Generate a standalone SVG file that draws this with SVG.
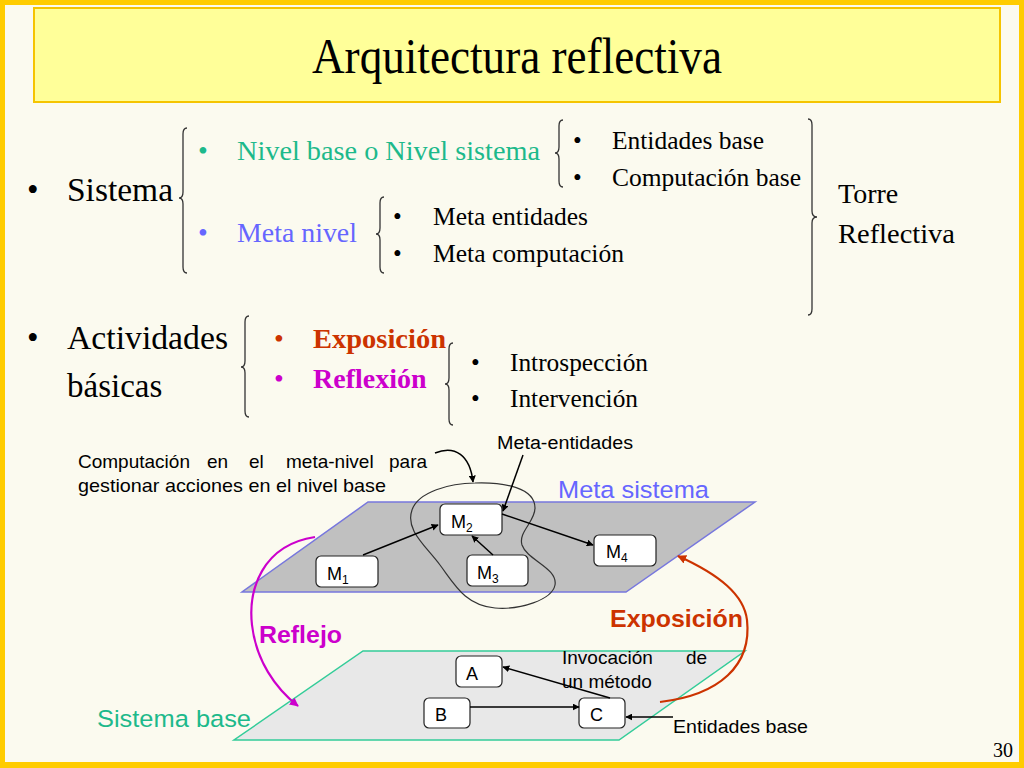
<svg xmlns="http://www.w3.org/2000/svg" width="1024" height="768" viewBox="0 0 1024 768">
<style>
.ser{font-family:"Liberation Serif","Times New Roman",serif;fill:#000}
.san{font-family:"Liberation Sans",Arial,sans-serif;fill:#000}
.brace{fill:none;stroke:#333;stroke-width:1.3}
.box{fill:#fff;stroke:#222;stroke-width:1.2}
.lbl{font-family:"Liberation Sans",Arial,sans-serif;font-size:18px;fill:#000}
.sub{font-size:12px}
.conn{fill:none;stroke:#000;stroke-width:1.5}
</style>
<defs>
<marker id="ah" viewBox="0 0 10 10" refX="9" refY="5" markerWidth="7" markerHeight="7" markerUnits="userSpaceOnUse" orient="auto">
<path d="M0,0 L10,5 L0,10 z" fill="#000"/>
</marker>
<marker id="ahm" viewBox="0 0 10 10" refX="9" refY="5" markerWidth="9" markerHeight="9" markerUnits="userSpaceOnUse" orient="auto">
<path d="M0,0 L10,5 L0,10 z" fill="#CC00CC"/>
</marker>
<marker id="ahr" viewBox="0 0 10 10" refX="9" refY="5" markerWidth="9" markerHeight="9" markerUnits="userSpaceOnUse" orient="auto">
<path d="M0,0 L10,5 L0,10 z" fill="#CC3300"/>
</marker>
</defs>

<rect x="0" y="0" width="1024" height="768" fill="#FBFAEF"/>
<rect x="2.5" y="2.5" width="1019" height="762" fill="none" stroke="#FFCC00" stroke-width="5"/>
<rect x="0" y="763" width="1024" height="5" fill="#FFCC00"/>

<g id="title">
<rect x="34" y="8" width="966" height="94" fill="#FFFF99" stroke="#F5C400" stroke-width="2"/>
<text class="ser" x="312" y="73" font-size="50" textLength="410" lengthAdjust="spacingAndGlyphs">Arquitectura reflectiva</text>
</g>

<g id="outline">
<text class="ser" x="27" y="201" font-size="33">•</text>
<text class="ser" x="67" y="201" font-size="33" textLength="106" lengthAdjust="spacingAndGlyphs">Sistema</text>
<path class="brace" d="M187,128 C184,128 183,130 183,134 L183,192 C183,196 182,198 179,198 C182,198 183,200 183,204 L183,267 C183,271 184,273 187,273"/>

<text class="ser" x="198" y="160" font-size="28" style="fill:#1DB98B">•</text>
<text class="ser" x="237" y="160" font-size="28" style="fill:#1DB98B" textLength="303" lengthAdjust="spacingAndGlyphs">Nivel base o Nivel sistema</text>
<path class="brace" d="M563,120 C560,120 559,122 559,126 L559,147 C559,151 558,153 555,153 C558,153 559,155 559,159 L559,181 C559,185 560,187 563,187"/>
<text class="ser" x="573" y="149" font-size="25">•</text>
<text class="ser" x="612" y="149" font-size="25" textLength="152" lengthAdjust="spacingAndGlyphs">Entidades base</text>
<text class="ser" x="573" y="186" font-size="25">•</text>
<text class="ser" x="612" y="186" font-size="25" textLength="189" lengthAdjust="spacingAndGlyphs">Computación base</text>

<text class="ser" x="198" y="242" font-size="28" style="fill:#6666FF">•</text>
<text class="ser" x="237" y="242" font-size="28" style="fill:#6666FF" textLength="120" lengthAdjust="spacingAndGlyphs">Meta nivel</text>
<path class="brace" d="M384,197 C381,197 380,199 380,203 L380,228 C380,232 379,234 376,234 C379,234 380,236 380,240 L380,267 C380,271 381,273 384,273"/>
<text class="ser" x="393" y="225" font-size="25">•</text>
<text class="ser" x="433" y="225" font-size="25" textLength="155" lengthAdjust="spacingAndGlyphs">Meta entidades</text>
<text class="ser" x="393" y="262" font-size="25">•</text>
<text class="ser" x="433" y="262" font-size="25" textLength="191" lengthAdjust="spacingAndGlyphs">Meta computación</text>

<path class="brace" d="M808,119 C811,119 812,121 812,125 L812,211 C812,215 813,217 817,217 C813,217 812,219 812,223 L812,309 C812,313 811,315 808,315"/>
<text class="ser" x="838" y="203" font-size="28">Torre</text>
<text class="ser" x="838" y="243" font-size="28" textLength="117" lengthAdjust="spacingAndGlyphs">Reflectiva</text>

<text class="ser" x="27" y="349" font-size="33">•</text>
<text class="ser" x="67" y="349" font-size="33" textLength="161" lengthAdjust="spacingAndGlyphs">Actividades</text>
<text class="ser" x="67" y="397" font-size="33">básicas</text>
<path class="brace" d="M249,316 C246,316 245,318 245,322 L245,361 C245,365 244,367 241,367 C244,367 245,369 245,373 L245,411 C245,415 246,417 249,417"/>

<text class="ser" x="274" y="348" font-size="28" style="fill:#CC3300">•</text>
<text class="ser" x="313" y="348" font-size="28" font-weight="bold" style="fill:#CC3300" textLength="133" lengthAdjust="spacingAndGlyphs">Exposición</text>
<text class="ser" x="274" y="388" font-size="28" style="fill:#CC00CC">•</text>
<text class="ser" x="313" y="388" font-size="28" font-weight="bold" style="fill:#CC00CC">Reflexión</text>
<path class="brace" d="M453,343 C450,343 449,345 449,349 L449,378 C449,382 448,384 445,384 C448,384 449,386 449,390 L449,419 C449,423 450,425 453,425"/>
<text class="ser" x="471" y="371" font-size="25">•</text>
<text class="ser" x="510" y="371" font-size="25" textLength="138" lengthAdjust="spacingAndGlyphs">Introspección</text>
<text class="ser" x="471" y="407" font-size="25">•</text>
<text class="ser" x="510" y="407" font-size="25" textLength="128" lengthAdjust="spacingAndGlyphs">Intervención</text>
</g>

<g id="meta-plane">
<polygon points="368,502 755,502 626,592 242,592" fill="#C0C0C0" stroke="#7777DD" stroke-width="1.5"/>
<text class="san" x="558" y="498" font-size="24.5" style="fill:#6666FF" textLength="151" lengthAdjust="spacingAndGlyphs">Meta sistema</text>
</g>

<g id="base-plane">
<polygon points="363,651 745,651 619,740 234,740" fill="#E8E8E8" stroke="#33CC99" stroke-width="1.5"/>
<text class="san" x="97" y="727" font-size="24.5" style="fill:#1DB98B" textLength="154" lengthAdjust="spacingAndGlyphs">Sistema base</text>
</g>

<g id="meta-group">
<path d="M475,483 C505,482 535,488 535,508 C535,522 518,532 522,545 C527,560 558,568 555,585 C552,600 520,610 495,608 C465,605 455,585 440,565 C425,545 405,530 412,510 C418,492 450,483 475,483 Z" fill="none" stroke="#333" stroke-width="1.2"/>
</g>

<g id="M1"><rect class="box" x="316" y="556" width="62" height="31" rx="5"/><text class="lbl" x="327" y="580">M<tspan class="sub" dy="4">1</tspan></text></g>
<g id="M2"><rect class="box" x="440" y="504" width="62" height="31" rx="5"/><text class="lbl" x="451" y="528">M<tspan class="sub" dy="4">2</tspan></text></g>
<g id="M3"><rect class="box" x="467" y="555" width="61" height="31" rx="5"/><text class="lbl" x="477" y="579">M<tspan class="sub" dy="4">3</tspan></text></g>
<g id="M4"><rect class="box" x="594" y="535" width="62" height="31" rx="5"/><text class="lbl" x="606" y="558">M<tspan class="sub" dy="4">4</tspan></text></g>
<g id="A"><rect class="box" x="456" y="656" width="46" height="31" rx="5"/><text class="lbl" x="466" y="680" font-size="19">A</text></g>
<g id="B"><rect class="box" x="424" y="698" width="46" height="30" rx="5"/><text class="lbl" x="435" y="721" font-size="19">B</text></g>
<g id="C"><rect class="box" x="579" y="698" width="46" height="30" rx="5"/><text class="lbl" x="590" y="721" font-size="19">C</text></g>

<g id="labels">
<text class="san" font-size="19" y="468"><tspan x="78">Computación</tspan><tspan x="207">en</tspan><tspan x="249">el</tspan><tspan x="286">meta-nivel</tspan><tspan x="389">para</tspan></text>
<text class="san" font-size="19" x="78" y="492" textLength="308" lengthAdjust="spacingAndGlyphs">gestionar acciones en el nivel base</text>
<text class="san" font-size="18" x="497" y="449" textLength="136" lengthAdjust="spacingAndGlyphs">Meta-entidades</text>
<text class="san" font-size="19" y="664"><tspan x="562">Invocación</tspan><tspan x="686">de</tspan></text>
<text class="san" font-size="19" x="562" y="688">un método</text>
<text class="san" font-size="19" x="673" y="733" textLength="135" lengthAdjust="spacingAndGlyphs">Entidades base</text>
<text class="san" font-size="24" font-weight="bold" x="259" y="643" style="fill:#CC00CC" textLength="83" lengthAdjust="spacingAndGlyphs">Reflejo</text>
<text class="san" font-size="24" font-weight="bold" x="610" y="627" style="fill:#CC3300" textLength="133" lengthAdjust="spacingAndGlyphs">Exposición</text>
</g>

<g id="connectors">
<path class="conn" d="M363,555 L438,525" marker-end="url(#ah)"/>
<path class="conn" d="M493,555 L472,536" marker-end="url(#ah)"/>
<path class="conn" d="M502,514 L593,545" marker-end="url(#ah)"/>
<path class="conn" d="M523,455 L503,511" marker-end="url(#ah)"/>
<path class="conn" d="M435,453 C455,445 470,455 473,482" stroke-width="1.3" marker-end="url(#ah)"/>
<path class="conn" d="M470,707 L579,707" marker-end="url(#ah)"/>
<path class="conn" d="M610,698 L503,667" marker-end="url(#ah)"/>
<path class="conn" d="M673,717 L626,717" marker-end="url(#ah)"/>
<path d="M315,537 C262,545 248,590 252,625 C256,660 275,688 298,706" fill="none" stroke="#CC00CC" stroke-width="2.2" marker-end="url(#ahm)"/>
<path d="M660,702 C720,695 752,665 747,620 C744,595 720,575 678,556" fill="none" stroke="#CC3300" stroke-width="2.2" marker-end="url(#ahr)"/>
</g>

<text class="ser" x="993" y="757" font-size="20">30</text>
</svg>
